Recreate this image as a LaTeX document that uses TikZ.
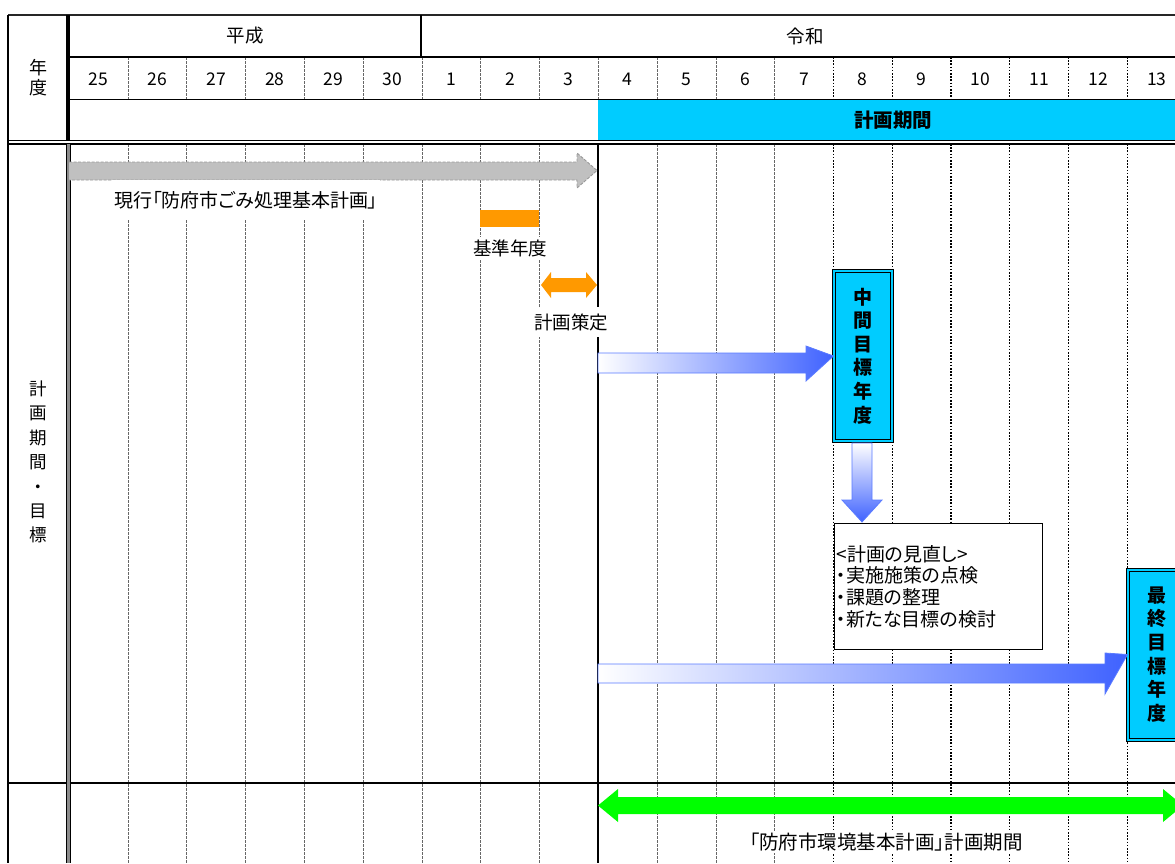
\documentclass[tikz,border=0pt]{standalone}
\usepackage{fontspec}
\setmainfont{Noto Sans CJK JP}
\newfontfamily\pjp{Noto Sans CJK JP}[RawFeature=+palt]
\definecolor{cyanbar}{HTML}{00CCFF}
\definecolor{orng}{HTML}{FF9900}
\definecolor{grn}{HTML}{00FF00}
\definecolor{arrblue}{HTML}{3F62FF}
\definecolor{arredge}{HTML}{5A7BFF}
\definecolor{greyar}{HTML}{C0C0C0}
\begin{document}
\begin{tikzpicture}[x=1pt,y=-1pt,
  jp/.style={font=\fontsize{18.5}{21}\selectfont},
  pj/.style={font=\pjp\fontsize{19}{21}\selectfont},
  num/.style={font=\fontsize{17.5}{20}\selectfont},
  gridthin/.style={black!60,line width=0.6pt,dash pattern=on 2.5pt off 1.5pt},
  griddot/.style={black,line width=1.2pt,dash pattern=on 1.6pt off 1.6pt},
  lbl/.style={fill=white,inner sep=2pt,jp},
  rule/.style={black,line width=1.4pt},
  tbox/.style={draw=black,double=cyanbar,line width=1pt,double distance=2pt,fill=cyanbar,
    minimum width=58,minimum height=170,align=center,inner sep=0pt,
    font=\fontsize{19}{23.6}\selectfont\bfseries},
  barrow/.style={draw=arredge,line width=0.8pt},
  ]
\useasboundingbox (0,0) rectangle (1175,863);
\clip (0,0) rectangle (1175,863);
\fill[white] (0,0) rectangle (1175,863);

% plan period bar
\fill[cyanbar] (598,99.5) rectangle (1175,140.5);

% grid lines
\foreach \i in {1,...,18}{
  \pgfmathsetmacro{\xx}{69+58.8*\i}
  \ifnum\i<13
    \draw[gridthin] (\xx,57) -- (\xx,99.5);
    \ifnum\i=9\else\draw[gridthin] (\xx,144) -- (\xx,863);\fi
  \else
    \draw[griddot] (\xx,57) -- (\xx,99.5);
    \draw[griddot] (\xx,144) -- (\xx,863);
  \fi
}
\draw[black,line width=1.8pt] (598,144) -- (598,863);

% table rules
\draw[black!85,line width=1.6pt] (8,15) -- (1175,15);
\draw[rule] (8,15) -- (8,863);
\draw[rule] (69,57) -- (1175,57);
\draw[rule] (69,99.5) -- (1175,99.5);
\draw[rule,line width=1.3pt] (8,140.5) -- (1175,140.5);
\draw[rule,line width=1.3pt] (8,144) -- (1175,144);
\draw[rule,line width=1.8pt] (8,783) -- (1175,783);
\draw[rule] (421,15) -- (421,57);
\draw[black,line width=4pt] (68,15) -- (68,141);
\fill[black!45] (66,144) rectangle (70,863);
\draw[black,line width=0.8pt] (66,144) -- (66,863);
\draw[black,line width=0.8pt] (70,144) -- (70,863);

% header texts
\node[jp] (heisei) at (245,36) {平成};
\node[jp] (reiwa) at (805,36) {令和};
\foreach \n [count=\i from 0] in {25,26,27,28,29,30,1,2,3,4,5,6,7,8,9,10,11,12,13}{
  \node[num] (yr\i) at ({69+58.8*\i+29.4},79.5) {\n};
}
\node[font=\fontsize{19.5}{22}\selectfont\bfseries] (period) at (893,120) {計画期間};
\node[align=center,font=\fontsize{18}{19.5}\selectfont] (nendo) at (38,77.5) {年\\度};
\node[align=center,font=\fontsize{17.5}{24.4}\selectfont] (kikan) at (38,462) {計\\画\\期\\間\\・\\目\\標};

% current plan arrow
\path[fill=greyar,draw=black!40,line width=0.9pt,dash pattern=on 3pt off 1.5pt]
  (69,162) -- (577,162) -- (577,153) -- (597,170.5) -- (577,188) -- (577,180) -- (69,180);
\node[lbl,pj,minimum height=40] (genko) at (246,200) {現行「防府市ごみ処理基本計画」};

% base year
\fill[orng] (480,210) rectangle (538.5,227);
\node[lbl] (kijun) at (510,248) {基準年度};

% plan making
\fill[orng] (541,285) -- (551,272) -- (551,278) -- (586,278) -- (586,272) -- (597,285)
  -- (586,298) -- (586,292) -- (551,292) -- (551,298) -- cycle;
\node[lbl,minimum height=30] (sakutei) at (571,322) {計画策定};

% target boxes
\node[tbox] (mid) at (863,356) {中\\間\\目\\標\\年\\度};
\node[tbox] (fin) at (1157,654.5) {最\\終\\目\\標\\年\\度};

% blue arrows
\path[barrow,left color=white,right color=arrblue]
  (598,353) -- (806,353) -- (806,346) -- (mid.west) -- (806,381) -- (806,373) -- (598,373) -- cycle;
\path[barrow,top color=white,bottom color=arrblue]
  (852,443) -- (872,443) -- (872,500) -- (882,500) -- (862,522) -- (842,500) -- (852,500) -- cycle;
\path[barrow,left color=white,right color=arrblue]
  (598,664) -- (1105,664) -- (1105,653) -- (fin.west) -- (1105,694) -- (1105,683) -- (598,683) -- cycle;

% review box
\node[draw=black,line width=1pt,fill=white,minimum width=208,minimum height=126,
  text width=204,align=left,inner sep=2pt,font=\pjp\fontsize{19}{21.8}\selectfont,anchor=north west]
  (review) at (834,523) {<計画の見直し>\\・実施施策の点検\\・課題の整理\\・新たな目標の検討};

% environment plan
\fill[grn] (598,805.5) -- (618,789) -- (618,797) -- (1163,797) -- (1163,789) -- (1183,805.5)
  -- (1163,822) -- (1163,814) -- (618,814) -- (618,822) -- cycle;
\node[lbl,pj,font=\pjp\fontsize{19.5}{21}\selectfont] (kankyo) at (886,842) {「防府市環境基本計画」計画期間};
\end{tikzpicture}
\end{document}
